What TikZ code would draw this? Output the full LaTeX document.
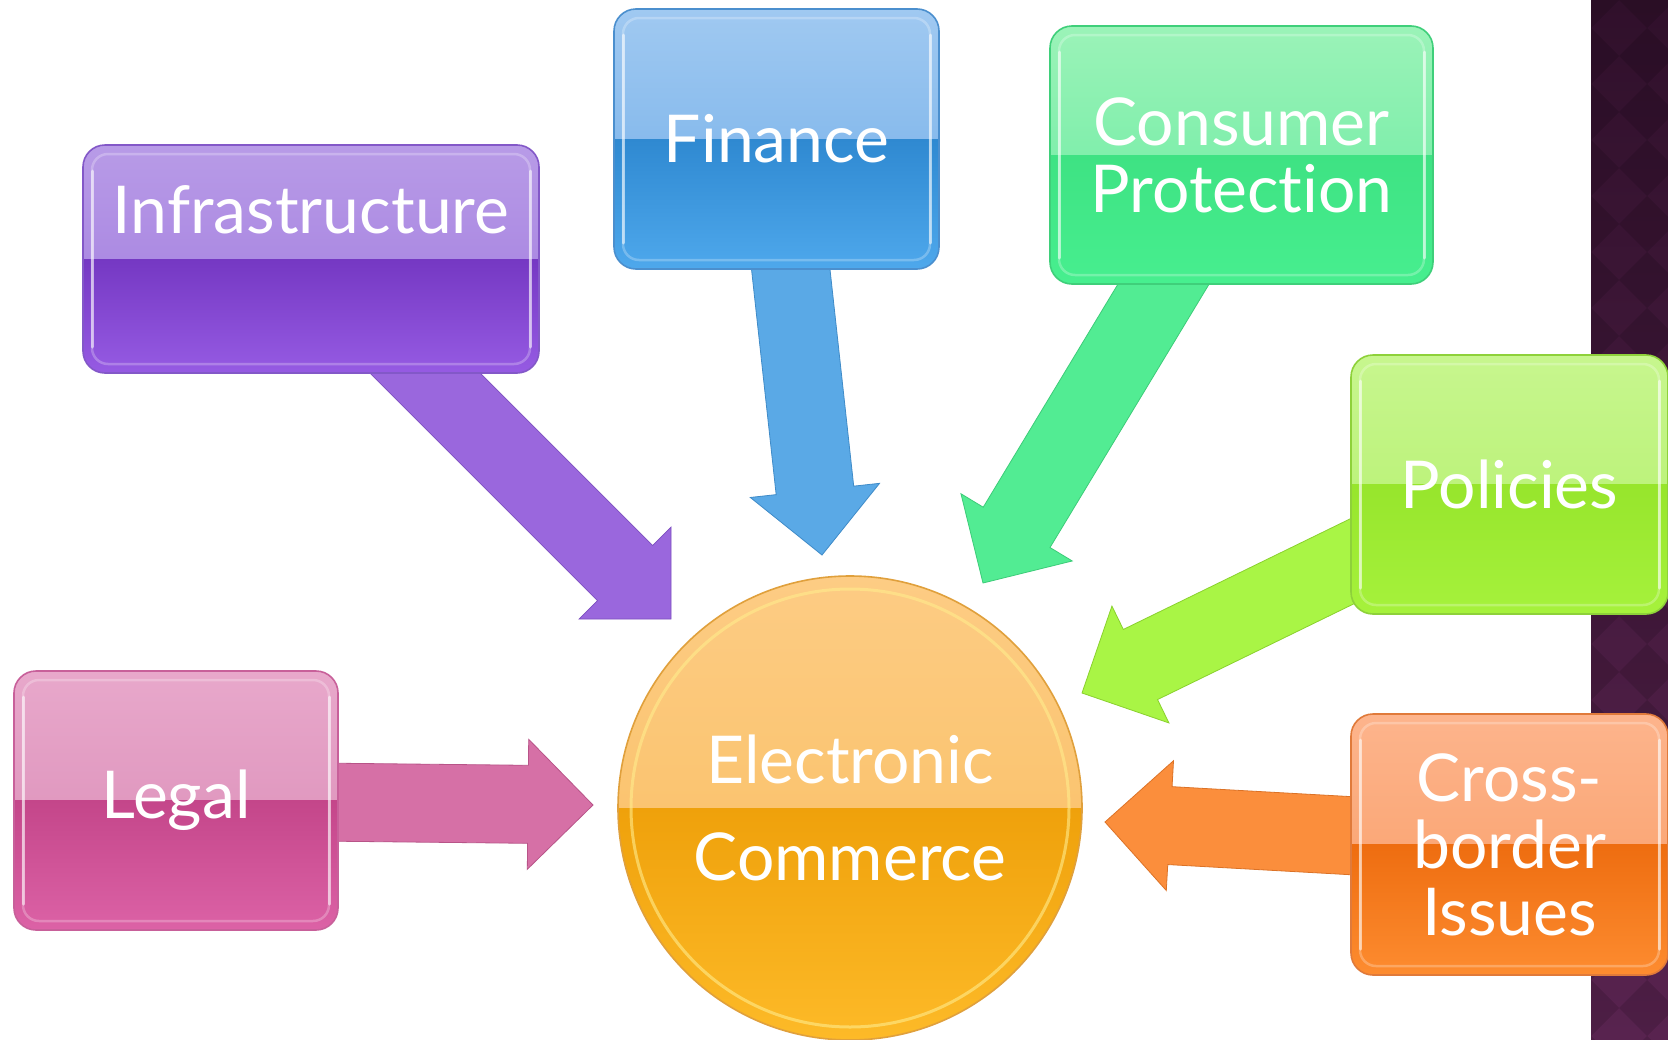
\documentclass[tikz,border=0pt]{standalone}
\usepackage{fontspec}
\setmainfont{Lato}[Ligatures=NoCommon]
\usetikzlibrary{calc}

\pgfdeclarelayer{back}
\pgfdeclarelayer{arrows}
\pgfsetlayers{back,arrows,main}

\newcommand\labelfont{\fontsize{66}{67}\selectfont}
\newcommand\hubfont{\fontsize{66}{97}\selectfont}

% block arrow from a tail point to a tip point
\newcommand\blockarrow[3]{%
  \coordinate (ba-h) at ($(#3)!65pt!(#2)$);
  \draw[#1] ($(#2)!39pt!90:(#3)$) -- ($(ba-h)!39pt!90:(#3)$)
    -- ($(ba-h)!65pt!90:(#3)$) -- (#3) -- ($(ba-h)!65pt!-90:(#3)$)
    -- ($(ba-h)!39pt!-90:(#3)$) -- ($(#2)!39pt!-90:(#3)$) -- cycle;
}

% palette: top, upper-middle, lower-middle, bottom, rim, arrow fill, arrow edge
\definecolor{infA}{HTML}{B89BE7}\definecolor{infB}{HTML}{A07ADE}\definecolor{infC}{HTML}{7538C3}
\definecolor{infD}{HTML}{965BE3}\definecolor{infR}{HTML}{8358C8}
\definecolor{infF}{HTML}{9A67DD}\definecolor{infE}{HTML}{7D4FC0}
\definecolor{finA}{HTML}{A0C9F1}\definecolor{finB}{HTML}{70ADE8}\definecolor{finC}{HTML}{2F89D1}
\definecolor{finD}{HTML}{4EA8EC}\definecolor{finR}{HTML}{4B8FCE}
\definecolor{finF}{HTML}{5AA9E6}\definecolor{finE}{HTML}{3F8BC8}
\definecolor{conA}{HTML}{9BF3B8}\definecolor{conB}{HTML}{66EAA0}\definecolor{conC}{HTML}{3EE283}
\definecolor{conD}{HTML}{47EF8F}\definecolor{conR}{HTML}{3FCF7A}
\definecolor{conF}{HTML}{52EC93}\definecolor{conE}{HTML}{3CCC78}
\definecolor{polA}{HTML}{C7F68E}\definecolor{polB}{HTML}{B3EF6A}\definecolor{polC}{HTML}{97E52C}
\definecolor{polD}{HTML}{A6F23C}\definecolor{polR}{HTML}{8ED13A}
\definecolor{polF}{HTML}{A9F545}\definecolor{polE}{HTML}{8AD12E}
\definecolor{croA}{HTML}{FDB48C}\definecolor{croB}{HTML}{F89C64}\definecolor{croC}{HTML}{EE6D10}
\definecolor{croD}{HTML}{FD8C30}\definecolor{croR}{HTML}{E07A3A}
\definecolor{croF}{HTML}{FB8E3C}\definecolor{croE}{HTML}{DC7226}
\definecolor{legA}{HTML}{E8A8CB}\definecolor{legB}{HTML}{D98AB5}\definecolor{legC}{HTML}{C4468A}
\definecolor{legD}{HTML}{DC62A6}\definecolor{legR}{HTML}{C8609A}
\definecolor{legF}{HTML}{D670A6}\definecolor{legE}{HTML}{B85488}
\definecolor{hubA}{HTML}{FDCC84}\definecolor{hubB}{HTML}{F8BC5C}\definecolor{hubC}{HTML}{EFA10B}
\definecolor{hubD}{HTML}{FDBA28}\definecolor{hubR}{HTML}{E0A03C}\definecolor{hubG}{HTML}{FFEC8C}
\definecolor{bandtop}{HTML}{30102B}
\definecolor{bandbot}{HTML}{58234F}

\tikzset{
  glossbox/.style={%
    rounded corners=22pt, draw=#1R, line width=1.6pt, inner sep=0pt,
    text=white, align=center, font=\labelfont,
    path picture={
      \shade[sharp corners, top color=#1A, bottom color=#1B]
        (path picture bounding box.north west) rectangle (path picture bounding box.east);
      \shade[sharp corners, top color=#1C, bottom color=#1D]
        (path picture bounding box.west) rectangle (path picture bounding box.south east);
      \draw[white, opacity=0.25, line width=2.5pt, rounded corners=16pt]
        ([shift={(9pt,-9pt)}]path picture bounding box.north west) rectangle
        ([shift={(-9pt,9pt)}]path picture bounding box.south east);
      \draw[white, opacity=0.55, line width=3pt, line cap=round, sharp corners]
        ([shift={(9pt,-26pt)}]path picture bounding box.north west) --
        ([shift={(9pt,26pt)}]path picture bounding box.south west)
        ([shift={(-9pt,-26pt)}]path picture bounding box.north east) --
        ([shift={(-9pt,26pt)}]path picture bounding box.south east);
    }},
  blockarrowstyle/.style={fill=#1F, draw=#1E, line width=0.8pt, line join=miter},
}

\begin{document}
\begin{tikzpicture}[x=1pt,y=-1pt]
\useasboundingbox (0,0) rectangle (1668,1039);

% page and the patterned side band
\begin{pgfonlayer}{back}
  \fill[white] (0,0) rectangle (1668,1039);
  \shade[top color=bandtop, bottom color=bandbot] (1591,0) rectangle (1668,1039);
  \begin{scope}
    \clip (1591,0) rectangle (1668,1039);
    \foreach \i in {0,1} \foreach \j in {0,...,19} {
      \fill[black, opacity=0.12]
        (1591+56*\i, 56*\j-28) -- (1619+56*\i, 56*\j) -- (1591+56*\i, 56*\j+28) -- (1563+56*\i, 56*\j) -- cycle;
    }
  \end{scope}
\end{pgfonlayer}

% topic boxes
\node[glossbox=inf, minimum width=456pt, minimum height=228pt] (infra) at (311,259)
      {\raisebox{49pt}[\height][\depth]{Infrastructure}};
\node[glossbox=fin, minimum width=325pt, minimum height=260pt] (fin) at (776.5,139) {Finance};
\node[glossbox=con, minimum width=383pt, minimum height=258pt] (con) at (1241.5,155) {Consumer\\Protection};
\node[glossbox=pol, minimum width=317pt, minimum height=259pt] (pol) at (1509.5,484.5) {Policies};
\node[glossbox=cro, minimum width=317pt, minimum height=261pt] (cro) at (1509.5,844.5) {Cross-\\border\\Issues};
\node[glossbox=leg, minimum width=324pt, minimum height=259pt] (leg) at (176,800.5) {Legal};

% central hub
\node[circle, minimum size=464pt, inner sep=0pt, draw=hubR, line width=1.6pt,
      text=white, align=center, font=\hubfont,
      path picture={
        \shade[top color=hubA, bottom color=hubB]
          (path picture bounding box.north west) rectangle (path picture bounding box.east);
        \shade[top color=hubC, bottom color=hubD]
          (path picture bounding box.west) rectangle (path picture bounding box.south east);
        \draw[hubG, opacity=0.6, line width=3pt]
          (path picture bounding box.center) circle (219pt);
      }] (ec) at (850,808) {Electronic\\Commerce};

% arrow tips
\coordinate (t-infra) at (671,619);
\coordinate (t-fin) at (822,555);
\coordinate (t-con) at (983,583);
\coordinate (t-pol) at (1082,693);
\coordinate (t-cro) at (1105,822);
\coordinate (t-leg) at (593,805);

\begin{pgfonlayer}{arrows}
  \blockarrow{blockarrowstyle=inf}{infra.center}{t-infra}
  \blockarrow{blockarrowstyle=fin}{fin.center}{t-fin}
  \blockarrow{blockarrowstyle=con}{con.center}{t-con}
  \blockarrow{blockarrowstyle=pol}{pol.center}{t-pol}
  \blockarrow{blockarrowstyle=cro}{cro.center}{t-cro}
  \blockarrow{blockarrowstyle=leg}{leg.center}{t-leg}
\end{pgfonlayer}
\end{tikzpicture}
\end{document}
